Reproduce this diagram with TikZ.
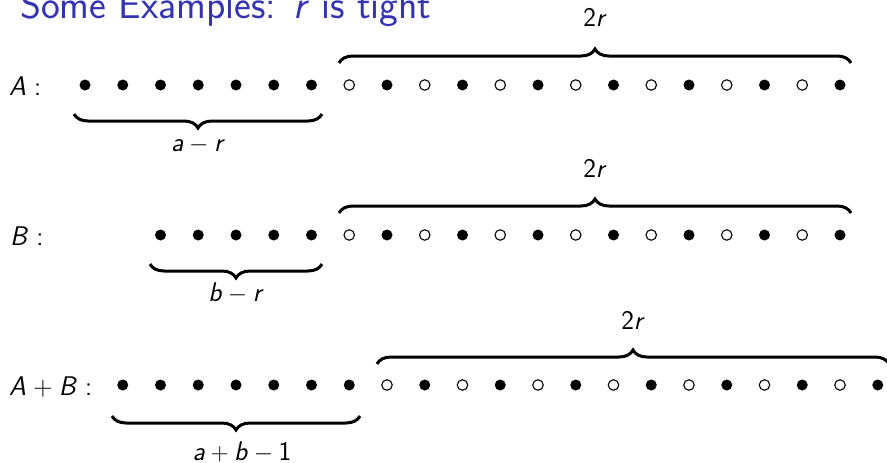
\documentclass[tikz,border=0pt]{standalone}
\usetikzlibrary{decorations.pathreplacing}
\definecolor{titleblue}{RGB}{51,51,179}
\begin{document}
\begin{tikzpicture}[x=1pt,y=-1pt,
  bdot/.style={circle,fill=black,inner sep=0pt,minimum size=11pt},
  odot/.style={circle,draw=black,line width=1.1pt,fill=white,inner sep=0pt,minimum size=10.5pt},
  rowlbl/.style={font=\fontsize{27}{31}\selectfont\sffamily,inner sep=0pt,anchor=base west},
  brlbl/.style={font=\fontsize{27}{31}\selectfont\sffamily,inner sep=0pt,anchor=base},
  bracetop/.style={decorate,decoration={brace,amplitude=14pt},line width=3pt},
  bracebot/.style={decorate,decoration={brace,amplitude=14pt,mirror},line width=3pt},
  titlestyle/.style={font=\fontsize{40}{46}\selectfont\sffamily,text=titleblue,inner sep=0pt,anchor=base west}]
\useasboundingbox (0,0) rectangle (887,463);

% title
\node[titlestyle] (title) at (20,19) {Some Examples: \textit{r} is tight};

% row labels
\node[rowlbl] (lA) at (9,95) {\textit{A}\hspace{8pt}:};
\node[rowlbl] (lB) at (10,245) {\textit{B}\hspace{8pt}:};
\node[rowlbl] (lS) at (9,395) {\textit{A}\hspace{7pt}+\hspace{6pt}\textit{B}\hspace{8pt}:};

% row A
\foreach \i in {0,...,6} \node[bdot] (a\i) at (85+37.75*\i,85) {};
\foreach \i in {7,...,20} {
  \pgfmathtruncatemacro{\odd}{mod(\i,2)}
  \ifnum\odd=1 \node[odot] (a\i) at (85+37.75*\i,85) {};
  \else \node[bdot] (a\i) at (85+37.75*\i,85) {}; \fi
}
% row B
\foreach \i in {2,...,6} \node[bdot] (b\i) at (85+37.75*\i,235) {};
\foreach \i in {7,...,20} {
  \pgfmathtruncatemacro{\odd}{mod(\i,2)}
  \ifnum\odd=1 \node[odot] (b\i) at (85+37.75*\i,235) {};
  \else \node[bdot] (b\i) at (85+37.75*\i,235) {}; \fi
}
% row A+B
\foreach \i in {1,...,7} \node[bdot] (s\i) at (85+37.75*\i,385) {};
\foreach \i in {8,...,21} {
  \pgfmathtruncatemacro{\odd}{mod(\i,2)}
  \ifnum\odd=0 \node[odot] (s\i) at (85+37.75*\i,385) {};
  \else \node[bdot] (s\i) at (85+37.75*\i,385) {}; \fi
}

% brace end points
\coordinate (aT1) at (339,63);  \coordinate (aT2) at (851,63);
\coordinate (aB1) at (74,114);  \coordinate (aB2) at (322,114);
\coordinate (bT1) at (339,213); \coordinate (bT2) at (851,213);
\coordinate (bB1) at (150,264); \coordinate (bB2) at (322,264);
\coordinate (sT1) at (377,364); \coordinate (sT2) at (889,364);
\coordinate (sB1) at (112,416); \coordinate (sB2) at (360,416);

\draw[bracetop] (aT1) -- (aT2);
\draw[bracebot] (aB1) -- (aB2);
\draw[bracetop] (bT1) -- (bT2);
\draw[bracebot] (bB1) -- (bB2);
\draw[bracetop] (sT1) -- (sT2);
\draw[bracebot] (sB1) -- (sB2);

% brace labels
\node[brlbl] (laT) at (595,27) {2\textit{r}};
\node[brlbl] (laB) at (198,151) {\textit{a}${}-{}$\textit{r}};
\node[brlbl] (lbT) at (595,177) {2\textit{r}};
\node[brlbl] (lbB) at (236,301) {\textit{b}${}-{}$\textit{r}};
\node[brlbl] (lsT) at (633,329) {2\textit{r}};
\node[brlbl] (lsB) at (242,460) {\textit{a}${}+{}$\textit{b}${}-{}$1};
\end{tikzpicture}
\end{document}
